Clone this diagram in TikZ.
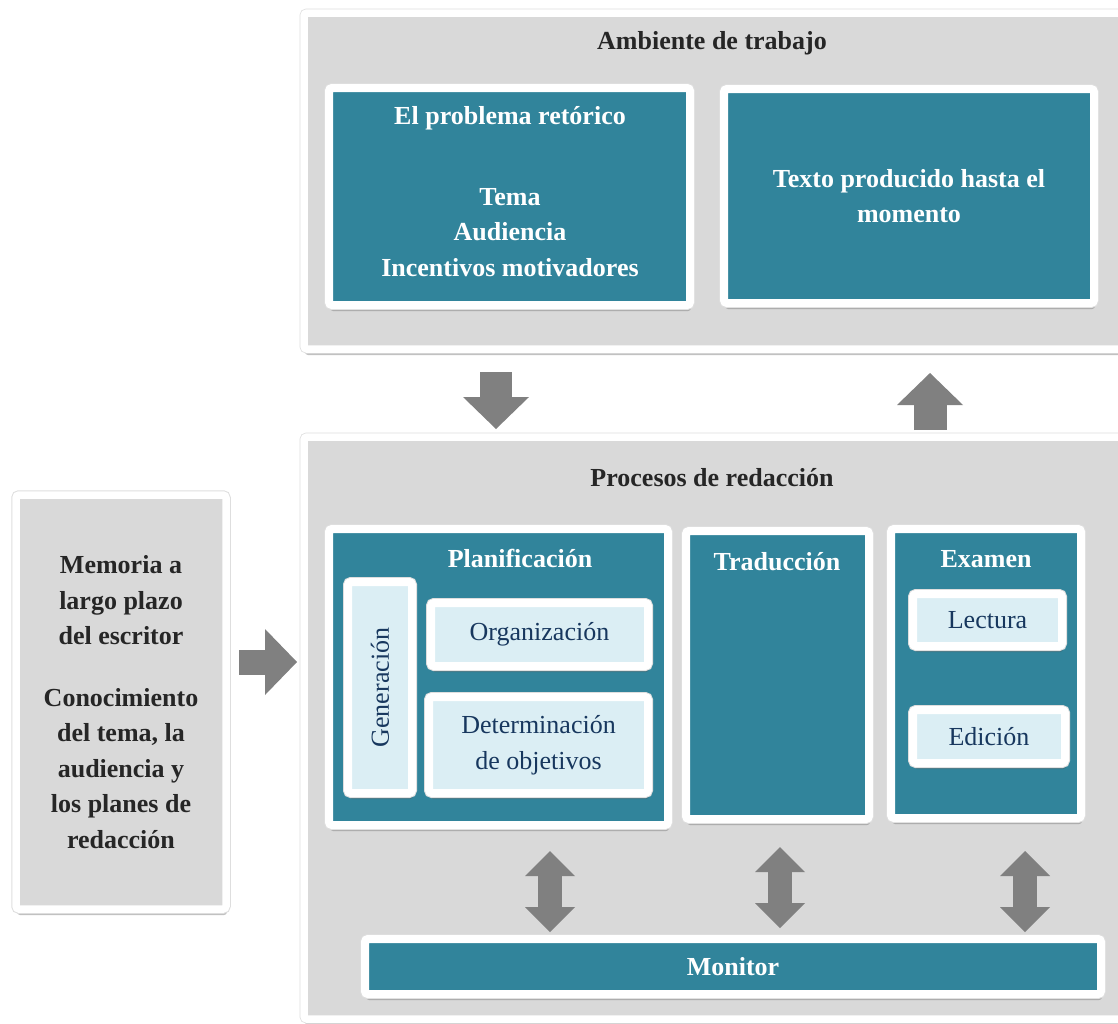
\documentclass[tikz,border=0pt]{standalone}
\usepackage{fontspec}
\setmainfont{Liberation Serif}
\usetikzlibrary{arrows.meta,shadows}

\definecolor{tealbox}{HTML}{31849B}
\definecolor{panelgray}{HTML}{D9D9D9}
\definecolor{lightbox}{HTML}{DBEEF4}
\definecolor{navytext}{HTML}{17375E}
\definecolor{arrowgray}{HTML}{808080}
\definecolor{darktext}{HTML}{262626}

\begin{document}
\begin{tikzpicture}[x=1pt,y=-1pt,
    every node/.style={inner sep=0pt, align=center},
    boxshadow/.style={drop shadow={shadow xshift=1pt, shadow yshift=-6pt, opacity=0.35, fill=black!70},
                      preaction={draw=black!13, line width=#1}},
    boxshadow/.default=10pt,
    panel/.style={draw=white, line width=7.5pt, fill=panelgray, rounded corners=3pt, boxshadow=9pt},
    card/.style={draw=white, line width=8pt, fill=tealbox, rounded corners=3pt, boxshadow,
                 text=white, font=\fontsize{26}{35.5}\selectfont\bfseries},
    lightcard/.style={draw=white, line width=8pt, fill=lightbox, rounded corners=3pt, boxshadow,
                      text=navytext, font=\fontsize{26}{35.5}\selectfont},
    graycard/.style={draw=white, line width=7.5pt, fill=panelgray, rounded corners=3pt, boxshadow=9.5pt,
                     text=darktext, font=\fontsize{26}{35.5}\selectfont\bfseries},
    paneltitle/.style={text=darktext, font=\fontsize{26}{35.5}\selectfont\bfseries},
    cardtitle/.style={text=white, font=\fontsize{26}{35.5}\selectfont\bfseries},
    bigarrow/.style={draw=arrowgray, line width=#1,
                     -{Triangle[width=66pt,length=32pt,line width=0pt]}},
    twoway/.style={draw=arrowgray, line width=24pt,
                   {Triangle[width=50pt,length=25pt,line width=0pt]}-{Triangle[width=50pt,length=25pt,line width=0pt]}}]
\useasboundingbox (0,0) rectangle (1118,1023);

% panels
\node[panel, minimum width=826, minimum height=336] (ambiente) at (717,181) {};
\node[panel, minimum width=826, minimum height=582] (procesos) at (717,728) {};
\node[paneltitle] (ambtitle) at (712,43) {Ambiente de trabajo};
\node[paneltitle] (proctitle) at (712,478) {Procesos de redacción};

% ambiente de trabajo
\node[card, minimum width=361, minimum height=217] (problema) at (509.5,196.5) {};
\node[cardtitle] (probtitle) at (510,118) {El problema retórico};
\node[cardtitle] (probitems) at (510,232.5) {Tema\\Audiencia\\Incentivos motivadores};
\node[card, minimum width=370, minimum height=214] (texto) at (909,196)
    {Texto producido hasta el\\momento};

% memoria
\node[graycard, minimum width=210, minimum height=414] (memoria) at (121,702)
    {Memoria a\\largo plazo\\del escritor\\[26pt]Conocimiento\\del tema, la\\audiencia y\\los planes de\\redacción};

% procesos de redaccion
\node[card, minimum width=339, minimum height=296] (planif) at (498.5,677) {};
\node[cardtitle] (plantitle) at (520,558) {Planificación};
\node[lightcard, minimum width=64, minimum height=211] (generacion) at (380,687.5)
    {\rotatebox{90}{Generación}};
\node[lightcard, minimum width=217, minimum height=63] (organizacion) at (539.5,634.5) {Organización};
\node[lightcard, minimum width=219, minimum height=96] (determinacion) at (538.5,745)
    {Determinación\\de objetivos};

\node[card, minimum width=183, minimum height=288] (traduccion) at (777.5,675) {};
\node[cardtitle] (tradtitle) at (777,562) {Traducción};

\node[card, minimum width=190, minimum height=289] (examen) at (986,673.5) {};
\node[cardtitle] (examtitle) at (986,559) {Examen};
\node[lightcard, minimum width=149, minimum height=52] (lectura) at (987.5,620) {Lectura};
\node[lightcard, minimum width=152, minimum height=53] (edicion) at (989,736.5) {Edición};

\node[card, minimum width=736, minimum height=55] (monitor) at (733,966.5) {Monitor};

% arrows
\coordinate (toproc) at (496,372);
\coordinate (inproc) at (496,429);
\coordinate (outproc) at (930,430);
\coordinate (totexto) at (930,373);
\coordinate (frmem) at (239,662);
\coordinate (tomem) at (297,662);
\draw[bigarrow=32pt] (toproc) -- (inproc);
\draw[bigarrow=33pt] (outproc) -- (totexto);
\draw[bigarrow=25pt] (frmem) -- (tomem);

\foreach \name/\x/\top in {plan/550/851, trad/780/847, exam/1025/851} {
    \coordinate (\name up) at (\x,\top);
    \coordinate (\name down) at (\x,\top+81);
    \draw[twoway] (\name up) -- (\name down);
}
\end{tikzpicture}
\end{document}
